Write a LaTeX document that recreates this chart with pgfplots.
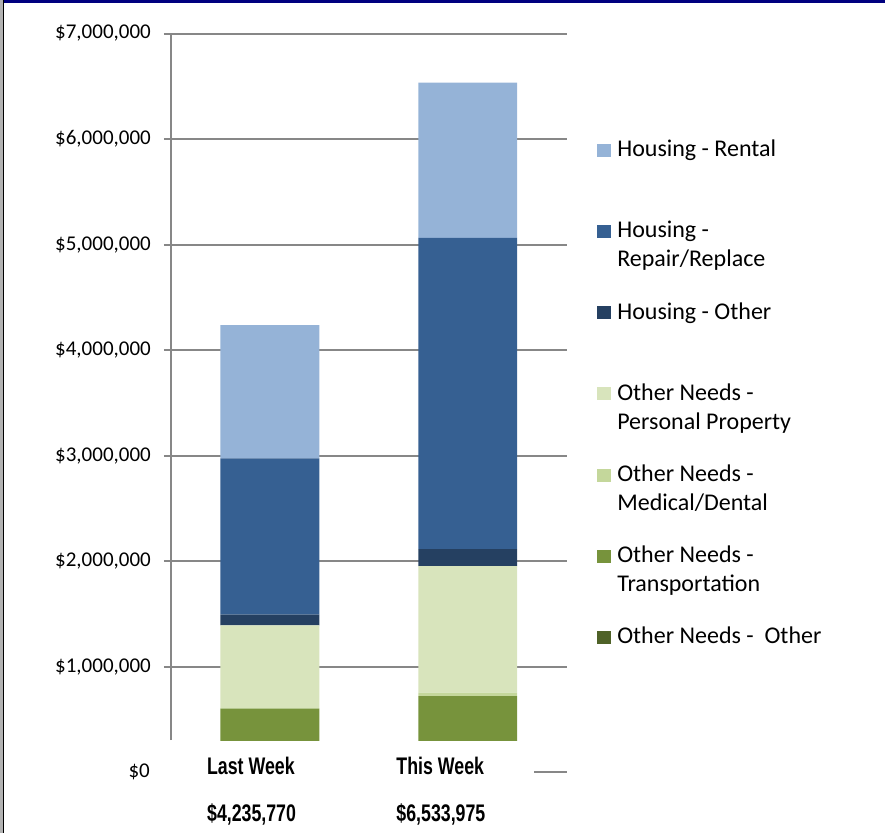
\documentclass[border=0pt]{standalone}
\usepackage{fontspec}
\setmainfont{Carlito}
\newfontfamily\narrowfont{Liberation Sans}[FakeStretch=0.74]
\usepackage{pgfplots}
\pgfplotsset{compat=1.18}

\definecolor{rental}{HTML}{95B3D7}
\definecolor{repair}{HTML}{366092}
\definecolor{hother}{HTML}{254061}
\definecolor{persprop}{HTML}{D8E4BC}
\definecolor{medical}{HTML}{C4D79B}
\definecolor{transport}{HTML}{77933C}
\definecolor{onother}{HTML}{4F6228}
\definecolor{gridgray}{HTML}{878787}
\definecolor{topblue}{HTML}{00007F}

% legend entries: first line on the row baseline, second line hangs below
\newcommand{\two}[2]{\begin{tabular}[t]{@{}l@{}}#1\\#2\end{tabular}}
\newcommand{\cat}[2]{\begin{tabular}[t]{@{}l@{}}#1\\[18bp]#2\end{tabular}}

\begin{document}
\begin{tikzpicture}
\useasboundingbox (0,0) rectangle (885bp,-833bp);
\fill[topblue] (0,0) rectangle (885bp,-3bp);
\fill[gray!60] (0,0) rectangle (3bp,-833bp);
\draw[black, line width=1.2bp] (3.6bp,0) -- (3.6bp,-833bp);

\begin{axis}[
  at={(171bp,-740bp)}, anchor=south west,
  scale only axis, width=395.7bp, height=706.5bp,
  ybar stacked, bar width=0.5,
  xmin=-0.5, xmax=1.5, ymin=305000, ymax=7000000,
  xtick={0,1},
  xticklabels={{\cat{Last Week}{\$4,235,770}},{\hspace*{-8.5bp}\cat{This Week}{\$6,533,975}}},
  xticklabel style={anchor=base west, inner sep=0pt, xshift=-63bp, yshift=-27.5bp,
    font=\fontsize{24bp}{29bp}\narrowfont\bfseries},
  major x tick style={draw=none},
  ytick={1000000,2000000,3000000,4000000,5000000,6000000,7000000},
  scaled y ticks=false,
  yticklabel={\$\pgfmathprintnumber{\tick}},
  /pgf/number format/.cd, fixed, precision=0, 1000 sep={,}, assume math mode=true,
  /pgfplots/.cd,
  yticklabel style={anchor=east, inner sep=0pt, xshift=-13bp,
    font=\fontsize{21bp}{25bp}\selectfont},
  tick align=outside, major tick length=7bp,
  major y tick style={gridgray, line width=2bp},
  axis lines*=left,
  x axis line style={draw=none},
  y axis line style={gridgray, line width=2bp},
  ymajorgrids, grid style={gridgray, line width=2bp},
  reverse legend,
  legend image code/.code={\fill[#1] (0bp,0bp) rectangle (14bp,13bp);},
  legend style={at={(axis description cs:1.0766,0.8539)}, anchor=north west,
    draw=none, fill=none, inner sep=0pt, outer sep=0pt, row sep=0pt,
    font=\fontsize{24bp}{29bp}\selectfont,
    cells={anchor=base west},
    nodes={inner sep=0pt, outer sep=0pt, text height=20bp, text depth=61.2bp},
    /tikz/every odd column/.append style={column sep=6.3bp}},
]
\addplot+[fill=onother, draw=none] coordinates {(0,0) (1,0)};
\addlegendentry{Other Needs - \ Other}
\addplot+[fill=transport, draw=none] coordinates {(0,602000) (1,722000)};
\addlegendentry{\two{Other Needs -}{Transportation}}
\addplot+[fill=medical, draw=none] coordinates {(0,5000) (1,32000)};
\addlegendentry{\two{Other Needs -}{Medical/Dental}}
\addplot+[fill=persprop, draw=none] coordinates {(0,785000) (1,1198000)};
\addlegendentry{\two{Other Needs -}{Personal Property}}
\addplot+[fill=hother, draw=none] coordinates {(0,101000) (1,161000)};
\addlegendentry{Housing - Other}
\addplot+[fill=repair, draw=none] coordinates {(0,1482000) (1,2951000)};
\addlegendentry{\two{Housing -}{Repair/Replace}}
\addplot+[fill=rental, draw=none] coordinates {(0,1260770) (1,1470975)};
\addlegendentry{Housing - Rental}
\end{axis}

\node[anchor=east, inner sep=0pt, font=\fontsize{21bp}{25bp}\selectfont] at (150bp,-772.2bp) {\$0};
\draw[gridgray, line width=2bp] (534bp,-772.2bp) -- (566.7bp,-772.2bp);
\end{tikzpicture}
\end{document}
